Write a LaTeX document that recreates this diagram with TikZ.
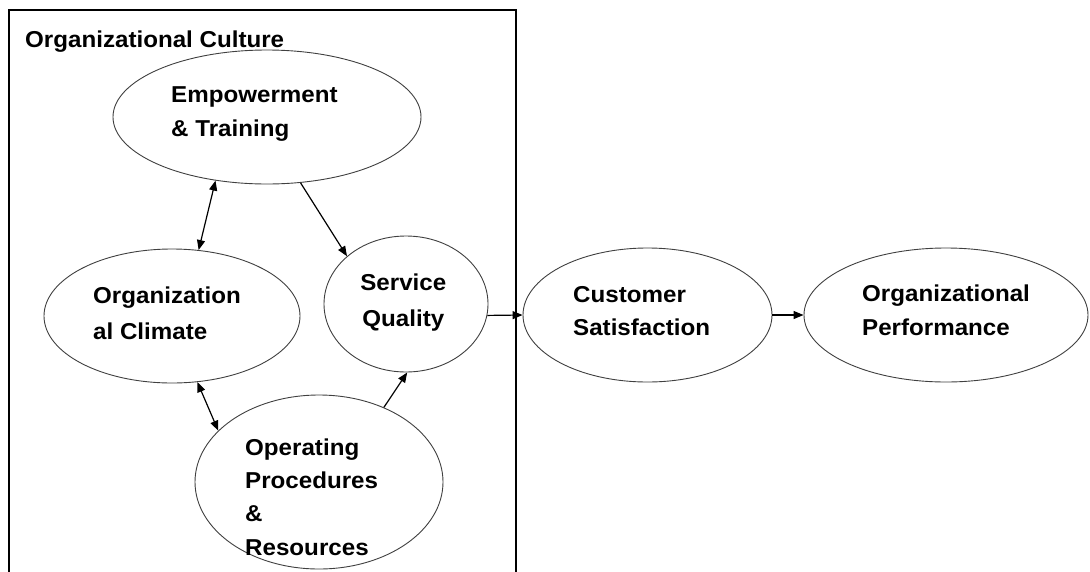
\documentclass[tikz,border=0pt]{standalone}
\usepackage{fontspec}
\setmainfont{Liberation Sans}[FakeStretch=1.05]
\usetikzlibrary{shapes.geometric,arrows.meta}
\begin{document}
\begin{tikzpicture}[x=1pt,y=-1pt,
  oval/.style={ellipse, draw=black!75, line width=0.9pt, inner sep=0pt},
  txt/.style={anchor=base west, inner sep=0pt, font=\fontsize{23}{27}\selectfont\bfseries},
  ctxt/.style={txt, anchor=base},
  conn/.style={line width=1.2pt, -{Triangle[length=10pt,width=8pt]}},
  biconn/.style={line width=1.2pt, {Triangle[length=10pt,width=8pt]}-{Triangle[length=10pt,width=8pt]}},
  frame/.style={line width=1.2pt, draw=black}]
\useasboundingbox[fill=white] (0,0) rectangle (1090,571);
% frame of organizational culture
\draw[frame] (9,600) |- (516,10) -- (516,600);
\node[txt] (title) at (25,47) {Organizational Culture};
% ellipses
\node[oval, minimum width=308pt, minimum height=134pt] (emp)  at (267,117) {};
\node[oval, minimum width=256pt, minimum height=134pt] (clim) at (172,316) {};
\node[oval, minimum width=164pt, minimum height=136pt] (sq)   at (406,304) {};
\node[oval, minimum width=248pt, minimum height=174pt] (op)   at (319,482) {};
\node[oval, minimum width=249pt, minimum height=134pt] (cs)   at (647.5,315) {};
\node[oval, minimum width=284pt, minimum height=134pt] (perf) at (946,315) {};
% texts
\node[txt] (emp1) at (171,102.7) {Empowerment};
\node[txt] (emp2) at (171,136) {\& Training};
\node[txt] (clim1) at (93,303) {Organization};
\node[txt] (clim2) at (93,339) {al Climate};
\node[ctxt] (sq1) at (403.3,290) {Service};
\node[ctxt] (sq2) at (403.3,326.5) {Quality};
\node[txt] (op1) at (245,455) {Operating};
\node[txt] (op2) at (245,488) {Procedures};
\node[txt] (op3) at (245,521) {\&};
\node[txt] (op4) at (245,555) {Resources};
\node[txt] (cs1) at (573,302) {Customer};
\node[txt] (cs2) at (573,335) {Satisfaction};
\node[txt] (perf1) at (862,301) {Organizational};
\node[txt] (perf2) at (862,335) {Performance};
% connectors
\draw[biconn] (emp.231) -- (clim.68);
\draw[conn] (emp.297) -- (sq.141);
\draw[biconn] (clim.291) -- (op.153);
\draw[conn] (op.49) -- (sq.271);
\draw[conn] (sq.352) -- (cs.west);
\draw[conn] (cs.east) -- (perf.west);
\end{tikzpicture}
\end{document}
